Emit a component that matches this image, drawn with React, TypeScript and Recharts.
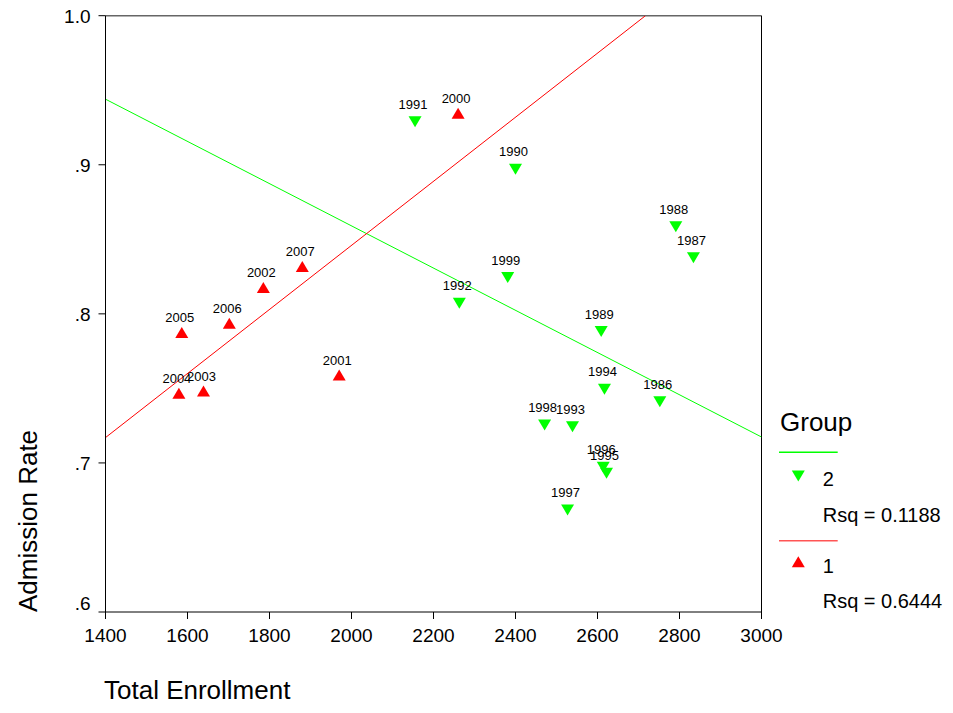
import React from "react";
import { ScatterChart, Scatter, XAxis, YAxis, ReferenceLine } from "recharts";

const FONT = '"Liberation Sans", Arial, sans-serif';

const group1Years = ["2005", "2006", "2002", "2007", "2004", "2003", "2001", "2000"];
const group1Enroll = [1586, 1702, 1785, 1880, 1579, 1639, 1970, 2260];
const group1Rate = [0.7875, 0.7937, 0.8176, 0.8317, 0.7467, 0.7483, 0.759, 0.9345];

const group2Years = ["1991", "1990", "1999", "1992", "1988", "1987", "1989", "1994", "1986", "1998", "1993", "1996", "1995", "1997"];
const group2Enroll = [2155, 2400, 2381, 2263, 2791, 2834, 2609, 2617, 2752, 2471, 2539, 2614, 2622, 2527];
const group2Rate = [0.9289, 0.897, 0.8243, 0.8071, 0.8585, 0.8377, 0.7881, 0.7494, 0.7411, 0.7255, 0.7243, 0.6971, 0.6931, 0.6685];

const fit1 = [{ x: 1400, y: 0.717 }, { x: 2717, y: 1.0 }];
const fit2 = [{ x: 1400, y: 0.944 }, { x: 3000, y: 0.7174 }];

const xTicks = [1400, 1600, 1800, 2000, 2200, 2400, 2600, 2800, 3000];
const yTicks = [0.6, 0.7, 0.8, 0.9, 1.0];

const group1 = group1Years.map((year, i) => ({ year, x: group1Enroll[i], y: group1Rate[i] }));
const group2 = group2Years.map((year, i) => ({ year, x: group2Enroll[i], y: group2Rate[i] }));

const UpTri = (props: any) => {
  const { cx, cy, payload } = props;
  return (
    <g>
      <polygon points={`${cx},${cy - 5.5} ${cx + 6.5},${cy + 5.5} ${cx - 6.5},${cy + 5.5}`} fill="#ff0000" />
      <text x={cx - 2} y={cy - 10.4} textAnchor="middle" fontSize={13} fontFamily={FONT} fill="#000">
        {payload.year}
      </text>
    </g>
  );
};

const DownTri = (props: any) => {
  const { cx, cy, payload } = props;
  return (
    <g>
      <polygon points={`${cx - 6.5},${cy - 5.5} ${cx + 6.5},${cy - 5.5} ${cx},${cy + 5.5}`} fill="#00ff00" />
      <text x={cx - 2} y={cy - 13} textAnchor="middle" fontSize={13} fontFamily={FONT} fill="#000">
        {payload.year}
      </text>
    </g>
  );
};

const XTick = (props: any) => {
  const { x, y, payload } = props;
  return (
    <text x={x} y={y} dy={21} textAnchor="middle" fontSize={19} fontFamily={FONT} fill="#000">
      {payload.value}
    </text>
  );
};

const fmtY = (v: number) => (Math.abs(v - 1) < 1e-9 ? "1.0" : "." + Math.round(v * 10));

const YTick = (props: any) => {
  const { x, y, payload } = props;
  const shift = Math.abs(payload.value - 0.6) < 1e-9 ? -9 : 0;
  return (
    <text x={x} y={y + shift} dy={7} textAnchor="end" fontSize={19} fontFamily={FONT} fill="#000">
      {fmtY(payload.value)}
    </text>
  );
};

export default function App() {
  return (
    <div style={{ position: "relative", width: 937, height: 697 }}>
      <ScatterChart
        width={937}
        height={697}
        margin={{ top: 7.7, right: 183.5, bottom: 63, left: 37.5 }}
      >
        <XAxis
          type="number"
          dataKey="x"
          domain={[1400, 3000]}
          ticks={xTicks}
          interval={0}
          allowDataOverflow
          height={30}
          tickSize={7}
          tickMargin={2}
          axisLine={{ stroke: "#000", strokeWidth: 1 }}
          tickLine={{ stroke: "#000" }}
          tick={<XTick />}
        />
        <YAxis
          type="number"
          dataKey="y"
          domain={[0.6, 1.0]}
          ticks={yTicks}
          interval={0}
          allowDataOverflow
          width={60}
          tickSize={7}
          tickMargin={8}
          axisLine={{ stroke: "#000", strokeWidth: 1 }}
          tickLine={{ stroke: "#000" }}
          tick={<YTick />}
        />
        <ReferenceLine y={1.0} stroke="#666" strokeWidth={1.5} ifOverflow="extendDomain" />
        <ReferenceLine x={3000} stroke="#000" strokeWidth={1} />
        <ReferenceLine segment={fit2} stroke="#00ff00" strokeWidth={1} ifOverflow="hidden" />
        <ReferenceLine segment={fit1} stroke="#ff0000" strokeWidth={1} ifOverflow="hidden" />
        <Scatter data={group2} shape={<DownTri />} isAnimationActive={false} />
        <Scatter data={group1} shape={<UpTri />} isAnimationActive={false} />
      </ScatterChart>
      <svg
        width={937}
        height={697}
        style={{ position: "absolute", left: 0, top: 0, pointerEvents: "none" }}
      >
        <text x={96} y={691.3} fontSize={26} fontFamily={FONT} fill="#000">
          Total Enrollment
        </text>
        <text
          x={29}
          y={604}
          transform="rotate(-90 29 604)"
          fontSize={26}
          fontFamily={FONT}
          fill="#000"
        >
          Admission Rate
        </text>
        <text x={772} y={422.7} fontSize={26} fontFamily={FONT} fill="#000">
          Group
        </text>
        <line x1={771} y1={444.3} x2={829.7} y2={444.3} stroke="#00ff00" strokeWidth={1.5} />
        <polygon points="783.8,462.5 796.8,462.5 790.3,473.5" fill="#00ff00" />
        <text x={814.7} y={477.7} fontSize={20} fontFamily={FONT} fill="#000">2</text>
        <text x={814.7} y={513.5} fontSize={20} fontFamily={FONT} fill="#000">Rsq = 0.1188</text>
        <line x1={771} y1={532.7} x2={829.7} y2={532.7} stroke="#ff5555" strokeWidth={1.5} />
        <polygon points="790.3,548.2 796.8,559.2 783.8,559.2" fill="#ff0000" />
        <text x={814.7} y={565.3} fontSize={20} fontFamily={FONT} fill="#000">1</text>
        <text x={814.7} y={600.3} fontSize={20} fontFamily={FONT} fill="#000">Rsq = 0.6444</text>
      </svg>
    </div>
  );
}
